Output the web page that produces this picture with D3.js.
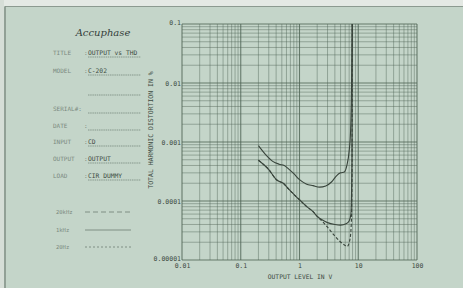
<!DOCTYPE html>
<html>
<head>
<meta charset="utf-8">
<script src="https://cdn.jsdelivr.net/npm/d3@7"></script>
<style>
  body { margin: 0; background: #c4d5c9; }
  svg { display: block; }
  .mono { font-family: "DejaVu Sans Mono", monospace; }
</style>
</head>
<body>
<svg id="chart" width="463" height="288"></svg>
<script>
const level20k = [0.2, 0.27, 0.35, 0.45, 0.55, 0.65, 0.8, 1.0, 1.3, 1.7, 2.2, 2.8, 3.5, 4.3, 5.0, 5.8, 6.4, 7.0, 7.4, 7.7, 7.9];
const thd20k   = [0.00087, 0.0006, 0.00047, 0.00042, 0.0004, 0.00035, 0.00029, 0.00023, 0.000195, 0.000182, 0.000172, 0.00018, 0.00021, 0.00027, 0.0003, 0.00031, 0.0004, 0.0007, 0.0015, 0.01, 0.1];

const level1k = [0.2, 0.3, 0.41, 0.53, 0.65, 0.8, 1.0, 1.3, 1.7, 2.0, 2.5, 3.0, 4.0, 5.0, 6.2, 7.0, 7.5, 7.8, 7.9];
const thd1k   = [0.00049, 0.00034, 0.000227, 0.0002, 0.00016, 0.00013, 0.000105, 0.000082, 0.000066, 0.000055, 0.000047, 0.000043, 0.00004, 0.000039, 0.000041, 0.000046, 0.00006, 0.0005, 0.1];

const level20 = [0.2, 0.3, 0.41, 0.53, 0.65, 0.8, 1.0, 1.3, 1.7, 2.0, 2.5, 3.0, 3.8, 4.8, 5.8, 6.5, 7.2, 7.6, 7.85, 7.9];
const thd20   = [0.00049, 0.00034, 0.000227, 0.0002, 0.00016, 0.00013, 0.000105, 0.000082, 0.000066, 0.000055, 0.000044, 0.000036, 0.000027, 0.000021, 0.000018, 0.000017, 0.000022, 0.00004, 0.0003, 0.1];

const xTickLabels = ["0.01", "0.1", "1", "10", "100"];
const yTickLabels = ["0.1", "0.01", "0.001", "0.0001", "0.00001"];

const infoLabels = ["TITLE", "MODEL", "", "SERIAL#", "DATE", "INPUT", "OUTPUT", "LOAD"];
const infoValues = ["OUTPUT vs THD", "C-202", "", "", "", "CD", "OUTPUT", "CIR DUMMY"];
const legendNames = ["20kHz", "1kHz", "20Hz"];

const svg = d3.select("#chart");
const ink = "#3c4a41";
const pale = "#7b8a80";

// card frame
svg.append("rect").attr("x", 0).attr("y", 0).attr("width", 463).attr("height", 6).attr("fill", "#e4e9e4");
svg.append("rect").attr("x", 0).attr("y", 0).attr("width", 4).attr("height", 288).attr("fill", "#d6ded7");
svg.append("line").attr("x1", 5).attr("x2", 463).attr("y1", 6.5).attr("y2", 6.5).attr("stroke", "#8c9a90").attr("stroke-width", 1.2);
svg.append("line").attr("x1", 5).attr("x2", 5).attr("y1", 6.5).attr("y2", 288).attr("stroke", "#7d8a80").attr("stroke-width", 1.4);

// scales
const x = d3.scaleLog().domain([0.01, 100]).range([182, 417]);
const y = d3.scaleLog().domain([0.00001, 0.1]).range([260, 24]);

// log grid
const isDecade = v => Math.abs(Math.log10(v) - Math.round(Math.log10(v))) < 1e-6;
const grid = svg.append("g");
grid.selectAll(".vx").data(x.ticks()).join("line")
  .attr("x1", d => x(d)).attr("x2", d => x(d))
  .attr("y1", y.range()[1]).attr("y2", y.range()[0])
  .attr("stroke", "#4e6354")
  .attr("stroke-opacity", d => isDecade(d) ? 0.8 : 0.55)
  .attr("stroke-width", d => isDecade(d) ? 1.1 : 0.8);
grid.selectAll(".hy").data(y.ticks()).join("line")
  .attr("y1", d => y(d)).attr("y2", d => y(d))
  .attr("x1", x.range()[0]).attr("x2", x.range()[1])
  .attr("stroke", "#4e6354")
  .attr("stroke-opacity", d => isDecade(d) ? 0.8 : 0.55)
  .attr("stroke-width", d => isDecade(d) ? 1.1 : 0.8);

// tick labels
const xVals = xTickLabels.map(Number);
svg.append("g").attr("transform", "translate(0,262)")
  .call(d3.axisBottom(x).tickValues(xVals).tickSize(0).tickFormat((d, i) => xTickLabels[i]))
  .call(g => g.select(".domain").remove())
  .selectAll("text").attr("class", "mono").attr("font-size", 6.5).attr("fill", ink).attr("dy", "0.5em");

const yVals = yTickLabels.map(Number);
svg.append("g").attr("transform", "translate(181,0)")
  .call(d3.axisLeft(y).tickValues(yVals).tickSize(0).tickFormat((d, i) => yTickLabels[i]))
  .call(g => g.select(".domain").remove())
  .selectAll("text").attr("class", "mono").attr("font-size", 6.5).attr("fill", ink)
  .attr("x", 0).attr("dy", (d, i) => i === 0 ? "0.05em" : (i === 4 ? "0em" : "0.32em"));

// axis titles
svg.append("text").attr("class", "mono").attr("x", 300).attr("y", 278.5)
  .attr("text-anchor", "middle").attr("font-size", 6.3).attr("fill", ink)
  .text("OUTPUT LEVEL IN V");
svg.append("text").attr("class", "mono")
  .attr("transform", "translate(153,130) rotate(-90)")
  .attr("text-anchor", "middle").attr("font-size", 6.5).attr("fill", ink)
  .text("TOTAL HARMONIC DISTORTION IN %");

// curves
const line = d3.line().x(d => x(d[0])).y(d => y(d[1])).curve(d3.curveMonotoneX);
const curves = [
  {lv: level20, thd: thd20, dash: "3,2"},
  {lv: level1k, thd: thd1k, dash: null},
  {lv: level20k, thd: thd20k, dash: null}
];
svg.append("g").selectAll("path").data(curves).join("path")
  .attr("d", c => line(d3.zip(c.lv, c.thd)))
  .attr("fill", "none").attr("stroke", "#38443b").attr("stroke-width", 1.1)
  .attr("stroke-dasharray", c => c.dash);

// left info panel
svg.append("text").attr("x", 103).attr("y", 36).attr("text-anchor", "middle")
  .attr("font-family", "'DejaVu Serif', serif").attr("font-style", "italic")
  .attr("font-size", 10).attr("fill", "#34403a").text("Accuphase");

const rowY = [55, 73, 93, 111, 128, 144, 161, 178];
const info = svg.append("g").attr("class", "mono");
infoLabels.forEach((lab, i) => {
  const yy = rowY[i];
  if (lab) {
    info.append("text").attr("x", 53).attr("y", yy).attr("font-size", 6).attr("fill", pale)
      .text(lab === "SERIAL#" ? "SERIAL#:" : lab);
    if (lab !== "SERIAL#") info.append("text").attr("x", 84).attr("y", yy).attr("font-size", 6).attr("fill", pale).text(":");
  }
  info.append("line").attr("x1", 88).attr("x2", 141).attr("y1", yy + 2).attr("y2", yy + 2)
    .attr("stroke", "#6f7f74").attr("stroke-width", 0.7).attr("stroke-dasharray", "1.5,0.7");
  if (infoValues[i]) {
    info.append("text").attr("x", 88).attr("y", yy).attr("font-size", 6.3).attr("fill", ink).text(infoValues[i]);
  }
});

// legend
const legendY = [214, 232, 249];
const legendDash = ["5,3", null, "2,2"];
legendNames.forEach((n, i) => {
  info.append("text").attr("x", 56).attr("y", legendY[i]).attr("font-size", 5.5).attr("fill", pale).text(n);
  info.append("line").attr("x1", 85).attr("x2", 131).attr("y1", legendY[i] - 2).attr("y2", legendY[i] - 2)
    .attr("stroke", "#6f7f74").attr("stroke-width", 0.8).attr("stroke-dasharray", legendDash[i]);
});
</script>
</body>
</html>
